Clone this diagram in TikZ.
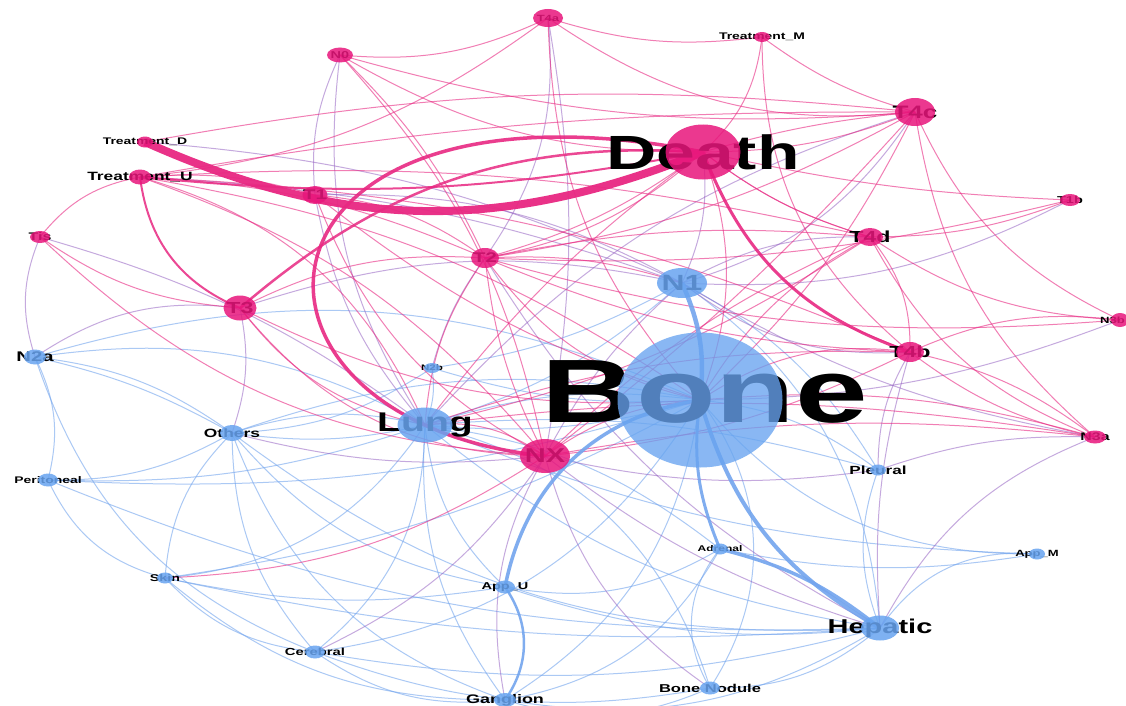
\documentclass[tikz,border=0pt]{standalone}
\usepackage{fontspec}
\setmainfont{Liberation Sans}
\usetikzlibrary{shapes.geometric}

\definecolor{nodepink}{RGB}{232,22,124}
\definecolor{nodeblue}{RGB}{104,164,240}
\definecolor{edgepink}{RGB}{232,40,130}
\definecolor{edgeblue}{RGB}{115,165,238}
\definecolor{edgemix}{RGB}{150,100,195}

% bold, horizontally stretched label text: size in pt, text
\newcommand\glabel[2]{\scalebox{1.45}[1]{\fontsize{#1}{#1}\selectfont\bfseries #2}}
% curved connector: [bend] style, from, to
\newcommand\edgeto[4][22]{\draw[#2] (#3) to[bend left=#1] (#4);}

\begin{document}
\begin{tikzpicture}[x=1pt,y=-1pt,
  pe/.style={draw=edgepink, draw opacity=0.6, line width=1pt},
  be/.style={draw=edgeblue, draw opacity=0.6, line width=1pt},
  me/.style={draw=edgemix, draw opacity=0.55, line width=1pt},
  dot/.style 2 args={ellipse, draw=none, inner sep=0pt, minimum width=#1, minimum height=#2, fill opacity=0.85},
  pdot/.style 2 args={dot={#1}{#2}, fill=nodepink},
  bdot/.style 2 args={dot={#1}{#2}, fill=nodeblue},
  lab/.style={inner sep=0pt, text=black}]

\fill[white] (0,0) rectangle (1126,706);
\path[use as bounding box] (0,0) rectangle (1126,706);
\clip (0,0) rectangle (1126,706);

% positions
\coordinate (Death) at (703,152);
\coordinate (Bone) at (700,400);
\coordinate (Lung) at (425,425);
\coordinate (NX) at (545,456);
\coordinate (N1) at (682,283);
\coordinate (Hep) at (880,628);
\coordinate (T2) at (485,258);
\coordinate (T3) at (240,308);
\coordinate (T1) at (315,195);
\coordinate (T4c) at (915,112);
\coordinate (T4d) at (870,237);
\coordinate (T4b) at (910,352);
\coordinate (T1b) at (1070,200);
\coordinate (N3b) at (1120,320);
\coordinate (N3a) at (1095,437);
\coordinate (Tis) at (40,237);
\coordinate (TD) at (145,142);
\coordinate (TU) at (140,177);
\coordinate (TM) at (762,37);
\coordinate (N0) at (340,55);
\coordinate (Ta) at (548,18);
\coordinate (N2a) at (35,357);
\coordinate (Oth) at (232,433);
\coordinate (N2b) at (432,368);
\coordinate (Per) at (48,480);
\coordinate (Skin) at (165,578);
\coordinate (Cer) at (315,652);
\coordinate (ApU) at (505,587);
\coordinate (Adr) at (720,549);
\coordinate (ApM) at (1037,554);
\coordinate (Gang) at (505,700);
\coordinate (BN) at (710,688);
\coordinate (Pleu) at (878,470);

% ---- thin blue connectors
\edgeto[8]{be}{N2a}{Oth}
\edgeto[14]{be}{N2a}{Oth}
\edgeto[18]{be}{N2a}{Lung}
\edgeto[20]{be}{N2a}{Bone}
\edgeto[20]{be}{N2a}{Per}
\edgeto[-25]{be}{N2a}{Cer}
\edgeto[15]{be}{Oth}{Lung}
\edgeto[-10]{be}{Oth}{Lung}
\edgeto[15]{be}{Oth}{Bone}
\edgeto[-15]{be}{Per}{Oth}
\edgeto[-20]{be}{Oth}{Cer}
\edgeto[-25]{be}{Oth}{Gang}
\edgeto[-20]{be}{Oth}{Hep}
\edgeto[-20]{be}{Oth}{ApU}
\edgeto[-20]{be}{Oth}{Skin}
\edgeto[-10]{be}{Per}{Lung}
\edgeto[-10]{be}{Per}{Bone}
\edgeto[-25]{be}{Per}{Skin}
\edgeto[-12]{be}{Per}{Hep}
\edgeto[-25]{be}{Skin}{Lung}
\edgeto[-10]{be}{Skin}{Bone}
\edgeto[-20]{be}{Skin}{Cer}
\edgeto[-8]{be}{Skin}{Hep}
\edgeto[-10]{be}{Skin}{ApU}
\edgeto[-20]{be}{Skin}{Gang}
\edgeto[-25]{be}{Cer}{Lung}
\edgeto[-25]{be}{Cer}{Bone}
\edgeto[-12]{be}{Cer}{Hep}
\edgeto[-20]{be}{Cer}{Gang}
\edgeto[-15]{be}{Cer}{BN}
\edgeto[20]{be}{Gang}{Lung}
\edgeto[-25]{be}{Gang}{Bone}
\edgeto[-20]{be}{Gang}{Hep}
\edgeto[-20]{be}{Gang}{BN}
\edgeto[-25]{be}{Gang}{Adr}
\edgeto[20]{be}{ApU}{Lung}
\edgeto[-12]{be}{ApU}{Hep}
\edgeto[-20]{be}{ApU}{Adr}
\edgeto[-35]{be}{BN}{Bone}
\edgeto[-20]{be}{BN}{Hep}
\edgeto[35]{be}{BN}{Adr}
\edgeto[-30]{be}{BN}{Lung}
\edgeto[-15]{be}{Adr}{Lung}
\edgeto[-10]{be}{Adr}{ApM}
\edgeto[25]{be}{ApM}{Bone}
\edgeto[-30]{be}{ApM}{Hep}
\edgeto[10]{be}{ApM}{Lung}
\edgeto[-15]{be}{Pleu}{Bone}
\edgeto[-10]{be}{Pleu}{Lung}
\edgeto[-20]{be}{Pleu}{Hep}
\edgeto[-15]{be}{Pleu}{N1}
\edgeto[12]{be}{N1}{Lung}
\edgeto[25]{be}{N1}{Hep}
\edgeto[15]{be}{N2b}{Lung}
\edgeto[-10]{be}{N2b}{Bone}
\edgeto[-10]{be}{N2b}{N1}
\edgeto[15]{be}{N2b}{Oth}
\edgeto[-10]{be}{Lung}{Bone}
\edgeto[12]{be}{Lung}{Bone}
\edgeto[-15]{be}{Lung}{Hep}

% ---- thin mixed connectors
\edgeto[10]{me}{TD}{N1}
\edgeto[8]{me}{TU}{N1}
\edgeto[-20]{me}{N0}{Lung}
\edgeto[-15]{me}{N0}{T1}
\edgeto[20]{me}{Ta}{T2}
\edgeto[10]{me}{Ta}{NX}
\edgeto[-15]{me}{T4c}{Lung}
\edgeto[20]{me}{T4c}{N1}
\edgeto[15]{me}{T1b}{N1}
\edgeto[10]{me}{N3b}{Bone}
\edgeto[-10]{me}{N3a}{Pleu}
\edgeto[10]{me}{N3a}{N1}
\edgeto[-20]{me}{N3a}{Hep}
\edgeto[-20]{me}{Tis}{N2a}
\edgeto[10]{me}{Tis}{Lung}
\edgeto[15]{me}{T3}{N1}
\edgeto[-20]{me}{T3}{N2a}
\edgeto[15]{me}{T3}{Oth}
\edgeto[-15]{me}{T1}{Lung}
\edgeto[15]{me}{T1}{N1}
\edgeto[-15]{me}{T2}{Hep}
\edgeto[-10]{me}{T2}{N2b}
\edgeto[10]{me}{NX}{N1}
\edgeto[-10]{me}{NX}{Hep}
\edgeto[-20]{me}{NX}{Gang}
\edgeto[-10]{me}{NX}{Pleu}
\edgeto[10]{me}{NX}{Oth}
\edgeto[15]{me}{NX}{Cer}
\edgeto[-20]{me}{NX}{BN}
\edgeto[-15]{me}{T4d}{N1}
\edgeto[20]{me}{T4b}{N1}
\edgeto[-10]{me}{T4b}{Hep}
\edgeto[-15]{me}{T4b}{Pleu}
\edgeto[15]{me}{Death}{N1}

% ---- thin pink connectors
\edgeto[8]{pe}{TD}{T4c}
\edgeto[10]{pe}{TU}{T2}
\edgeto[15]{pe}{TU}{NX}
\edgeto[8]{pe}{TU}{T4d}
\edgeto[10]{pe}{TU}{T4b}
\edgeto[12]{pe}{TU}{Bone}
\edgeto[10]{pe}{TU}{T1}
\edgeto[-20]{pe}{TU}{Tis}
\edgeto[25]{pe}{TU}{Lung}
\edgeto[5]{pe}{TU}{T4c}
\edgeto[-15]{pe}{N0}{Ta}
\edgeto[-10]{pe}{N0}{T4c}
\edgeto[15]{pe}{N0}{NX}
\edgeto[10]{pe}{N0}{T2}
\edgeto[-15]{pe}{N0}{Death}
\edgeto[-12]{pe}{Ta}{TM}
\edgeto[-20]{pe}{Ta}{T4c}
\edgeto[15]{pe}{Ta}{TU}
\edgeto[-20]{pe}{Ta}{Bone}
\edgeto[-10]{pe}{TM}{T4c}
\edgeto[20]{pe}{TM}{Death}
\edgeto[-25]{pe}{TM}{T4b}
\edgeto[10]{pe}{T4c}{Death}
\edgeto[-5]{pe}{T4c}{Death}
\edgeto[10]{pe}{T4c}{T2}
\edgeto[5]{pe}{T4c}{NX}
\edgeto[-20]{pe}{T4c}{N3a}
\edgeto[10]{pe}{T4c}{Bone}
\edgeto[-20]{pe}{T4c}{N3b}
\edgeto[10]{pe}{T1b}{T4d}
\edgeto[5]{pe}{T1b}{Death}
\edgeto[8]{pe}{T1b}{T2}
\edgeto[-15]{pe}{N3b}{T4b}
\edgeto[15]{pe}{N3b}{T4d}
\edgeto[10]{pe}{N3b}{T2}
\edgeto[12]{pe}{N3a}{T4b}
\edgeto[-12]{pe}{N3a}{T4b}
\edgeto[20]{pe}{N3a}{T4d}
\edgeto[-10]{pe}{N3a}{Bone}
\edgeto[-8]{pe}{N3a}{NX}
\edgeto[-8]{pe}{N3a}{Lung}
\edgeto[-15]{pe}{Tis}{T3}
\edgeto[-20]{pe}{Tis}{NX}
\edgeto[-20]{pe}{T3}{Lung}
\edgeto[-25]{pe}{T3}{NX}
\edgeto[-15]{pe}{T3}{Bone}
\edgeto[15]{pe}{T3}{T2}
\edgeto[-20]{pe}{T1}{NX}
\edgeto[15]{pe}{T1}{T2}
\edgeto[-10]{pe}{T1}{Bone}
\edgeto[-20]{pe}{T2}{Bone}
\edgeto[-15]{pe}{T2}{Lung}
\edgeto[-10]{pe}{T2}{NX}
\edgeto[10]{pe}{T2}{N1}
\edgeto[8]{pe}{T2}{T4d}
\edgeto[-10]{pe}{T2}{T4b}
\edgeto[-15]{pe}{T2}{Death}
\edgeto[15]{pe}{NX}{Bone}
\edgeto[-20]{pe}{NX}{Lung}
\edgeto[-10]{pe}{NX}{T4b}
\edgeto[10]{pe}{NX}{T4d}
\edgeto[15]{pe}{NX}{Skin}
\edgeto[-15]{pe}{T4d}{Bone}
\edgeto[10]{pe}{T4d}{Lung}
\edgeto[20]{pe}{T4d}{T4b}
\edgeto[10]{pe}{T4d}{Death}
\edgeto[-20]{pe}{T4b}{Bone}
\edgeto[-10]{pe}{T4b}{Lung}
\edgeto[20]{pe}{Death}{Bone}
\edgeto[10]{pe}{Death}{T2}
\edgeto[-8]{pe}{Death}{Lung}
\edgeto[-10]{pe}{Death}{T4d}

% ---- heavy connectors
\edgeto[15]{be, line width=4.5pt, draw opacity=0.9}{N1}{Bone}
\edgeto[-22]{be, line width=4pt, draw opacity=0.9}{Bone}{Hep}
\edgeto[-15]{be, line width=3pt, draw opacity=0.9}{Bone}{Adr}
\edgeto[12]{be, line width=3.5pt, draw opacity=0.9}{Adr}{Hep}
\edgeto[-35]{be, line width=3.5pt, draw opacity=0.9}{Bone}{ApU}
\edgeto[35]{be, line width=2.5pt, draw opacity=0.9}{ApU}{Gang}
\edgeto[-30]{pe, line width=2pt, draw opacity=0.85}{TU}{T3}
\edgeto[22]{pe, line width=2.5pt, draw opacity=0.85}{T3}{Death}
\edgeto[-8]{pe, line width=2pt, draw opacity=0.85}{TU}{Death}
\edgeto[-25]{pe, line width=3pt, draw opacity=0.9}{Death}{T4b}
\draw[pe, line width=3.5pt, draw opacity=0.9] (Death) .. controls (230,60) and (200,420) .. (NX);
\edgeto[-23]{pe, line width=8pt, draw opacity=0.95}{TD}{Death}

% ---- labels
\node[lab] (tDeath) at (Death) {\glabel{48}{Death}};
\node[lab] (tBone) at (705,392) {\glabel{90}{Bone}};
\node[lab] (tLung) at (Lung) {\glabel{27}{Lung}};
\node[lab] (tNX) at (NX) {\glabel{20}{NX}};
\node[lab] (tN1) at (N1) {\glabel{22}{N1}};
\node[lab] (tHep) at (Hep) {\glabel{20}{Hepatic}};
\node[lab] (tT2) at (T2) {\glabel{14}{T2}};
\node[lab] (tT3) at (T3) {\glabel{16}{T3}};
\node[lab] (tT1) at (T1) {\glabel{14}{T1}};
\node[lab] (tT4c) at (T4c) {\glabel{18}{T4c}};
\node[lab] (tT4d) at (T4d) {\glabel{16}{T4d}};
\node[lab] (tT4b) at (T4b) {\glabel{16}{T4b}};
\node[lab] (tT1b) at (T1b) {\glabel{10}{T1b}};
\node[lab, anchor=east] (tN3b) at (1125,320) {\glabel{9}{N3b}};
\node[lab] (tN3a) at (N3a) {\glabel{11}{N3a}};
\node[lab] (tTis) at (Tis) {\glabel{11}{Tis}};
\node[lab] (tTD) at (TD) {\glabel{9.6}{Treatment\_D}};
\node[lab] (tTU) at (TU) {\glabel{12}{Treatment\_U}};
\node[lab] (tTM) at (TM) {\glabel{9.6}{Treatment\_M}};
\node[lab] (tN0) at (N0) {\glabel{10}{N0}};
\node[lab] (tTa) at (Ta) {\glabel{9}{T4a}};
\node[lab] (tN2a) at (N2a) {\glabel{14}{N2a}};
\node[lab] (tOth) at (Oth) {\glabel{12}{Others}};
\node[lab] (tN2b) at (N2b) {\glabel{8}{N2b}};
\node[lab] (tPer) at (Per) {\glabel{9.6}{Peritoneal}};
\node[lab] (tSkin) at (Skin) {\glabel{9.8}{Skin}};
\node[lab] (tCer) at (Cer) {\glabel{10.2}{Cerebral}};
\node[lab] (tApU) at (ApU) {\glabel{10}{App\_U}};
\node[lab] (tAdr) at (Adr) {\glabel{8.3}{Adrenal}};
\node[lab] (tApM) at (ApM) {\glabel{9}{App\_M}};
\node[lab] (tGang) at (Gang) {\glabel{12.4}{Ganglion}};
\node[lab] (tBN) at (BN) {\glabel{11.4}{Bone Nodule}};
\node[lab] (tPleu) at (Pleu) {\glabel{11.8}{Pleural}};

% ---- node discs
\node[pdot={75}{55}] (dDeath) at (Death) {};
\node[bdot={165}{135}, fill opacity=0.78] (dBone) at (Bone) {};
\node[bdot={55}{35}] (dLung) at (Lung) {};
\node[pdot={50}{34}] (dNX) at (NX) {};
\node[bdot={50}{30}] (dN1) at (N1) {};
\node[bdot={38}{25}] (dHep) at (Hep) {};
\node[pdot={28}{20}] (dT2) at (T2) {};
\node[pdot={33}{25}] (dT3) at (T3) {};
\node[pdot={25}{18}] (dT1) at (T1) {};
\node[pdot={40}{28}] (dT4c) at (T4c) {};
\node[pdot={26}{18}] (dT4d) at (T4d) {};
\node[pdot={28}{20}] (dT4b) at (T4b) {};
\node[pdot={20}{12}] (dT1b) at (T1b) {};
\node[pdot={18}{14}] (dN3b) at (N3b) {};
\node[pdot={22}{13}] (dN3a) at (N3a) {};
\node[pdot={20}{12}] (dTis) at (Tis) {};
\node[pdot={16}{11}] (dTD) at (TD) {};
\node[pdot={22}{15}] (dTU) at (TU) {};
\node[pdot={16}{10}] (dTM) at (TM) {};
\node[pdot={26}{15}] (dN0) at (N0) {};
\node[pdot={30}{18}] (dTa) at (Ta) {};
\node[bdot={22}{15}] (dN2a) at (N2a) {};
\node[bdot={24}{16}] (dOth) at (Oth) {};
\node[bdot={16}{10}] (dN2b) at (N2b) {};
\node[bdot={20}{13}] (dPer) at (Per) {};
\node[bdot={16}{11}] (dSkin) at (Skin) {};
\node[bdot={20}{13}] (dCer) at (Cer) {};
\node[bdot={20}{13}] (dApU) at (ApU) {};
\node[bdot={16}{11}] (dAdr) at (Adr) {};
\node[bdot={16}{11}] (dApM) at (ApM) {};
\node[bdot={22}{14}] (dGang) at (Gang) {};
\node[bdot={20}{13}] (dBN) at (BN) {};
\node[bdot={16}{11}] (dPleu) at (Pleu) {};
\end{tikzpicture}
\end{document}
